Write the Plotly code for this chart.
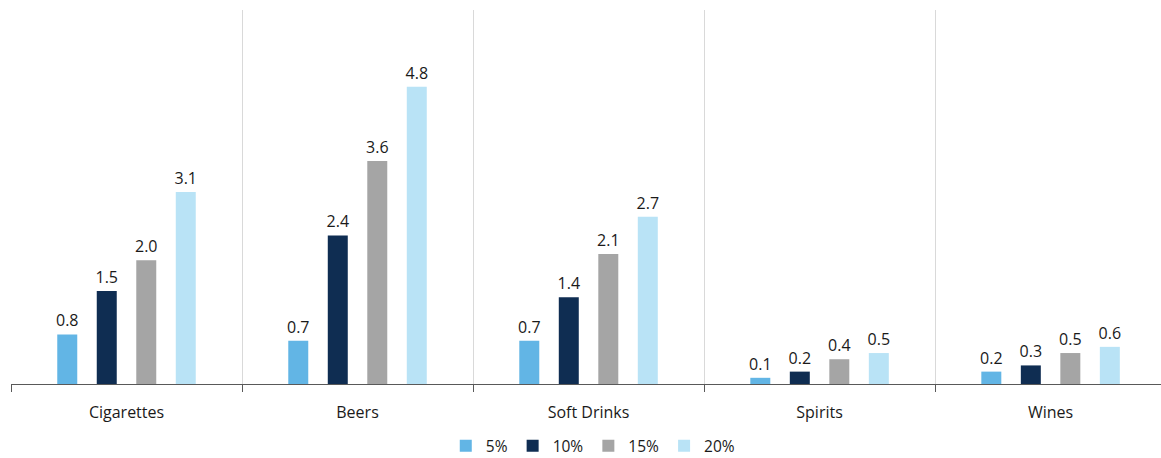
import plotly.graph_objects as go

categories = ["Cigarettes", "Beers", "Soft Drinks", "Spirits", "Wines"]
series_names = ["5%", "10%", "15%", "20%"]
v5 = [0.8, 0.7, 0.7, 0.1, 0.2]
v10 = [1.5, 2.4, 1.4, 0.2, 0.3]
v15 = [2.0, 3.6, 2.1, 0.4, 0.5]
v20 = [3.1, 4.8, 2.7, 0.5, 0.6]
series_values = [v5, v10, v15, v20]
colors = ["#62b5e5", "#0f2d52", "#a5a5a5", "#b9e3f6"]

xpos = list(range(len(categories)))

fig = go.Figure()
for name, vals, col in zip(series_names, series_values, colors):
    fig.add_trace(go.Bar(
        x=xpos, y=vals, name=name,
        marker=dict(color=col, line=dict(width=0)),
        text=[f"{v:.1f}" for v in vals],
        textposition="outside",
        constraintext="none",
        textfont=dict(family="Open Sans", size=16, color="#1a1a1a"),
        cliponaxis=False,
    ))

fig.update_layout(
    width=1161, height=458,
    margin=dict(l=11, r=0, t=10, b=74, autoexpand=False),
    paper_bgcolor="white", plot_bgcolor="white",
    barmode="group", bargap=0.316, bargroupgap=0.494,
    font=dict(family="Open Sans", size=16, color="#1a1a1a"),
    showlegend=True,
    legend=dict(orientation="h", xref="container", yref="container",
                x=0.511, xanchor="center", y=0.026, yanchor="middle",
                font=dict(size=15.5), itemwidth=30, traceorder="normal"),
    xaxis=dict(
        range=[-0.5, 4.478],
        tickvals=xpos, ticktext=categories,
        ticks="", showgrid=False, zeroline=False,
        showline=True, linecolor="#595959", linewidth=1,
        ticklabelstandoff=14,
        tickfont=dict(size=16, color="#1a1a1a"),
        minor=dict(tick0=0.5, dtick=1, ticks="outside", ticklen=7, tickcolor="#595959",
                   showgrid=True, gridcolor="#d9d9d9", gridwidth=1),
    ),
    yaxis=dict(range=[0, 6.04], visible=False, showgrid=False, zeroline=False),
)

fig.write_html("out.html")
